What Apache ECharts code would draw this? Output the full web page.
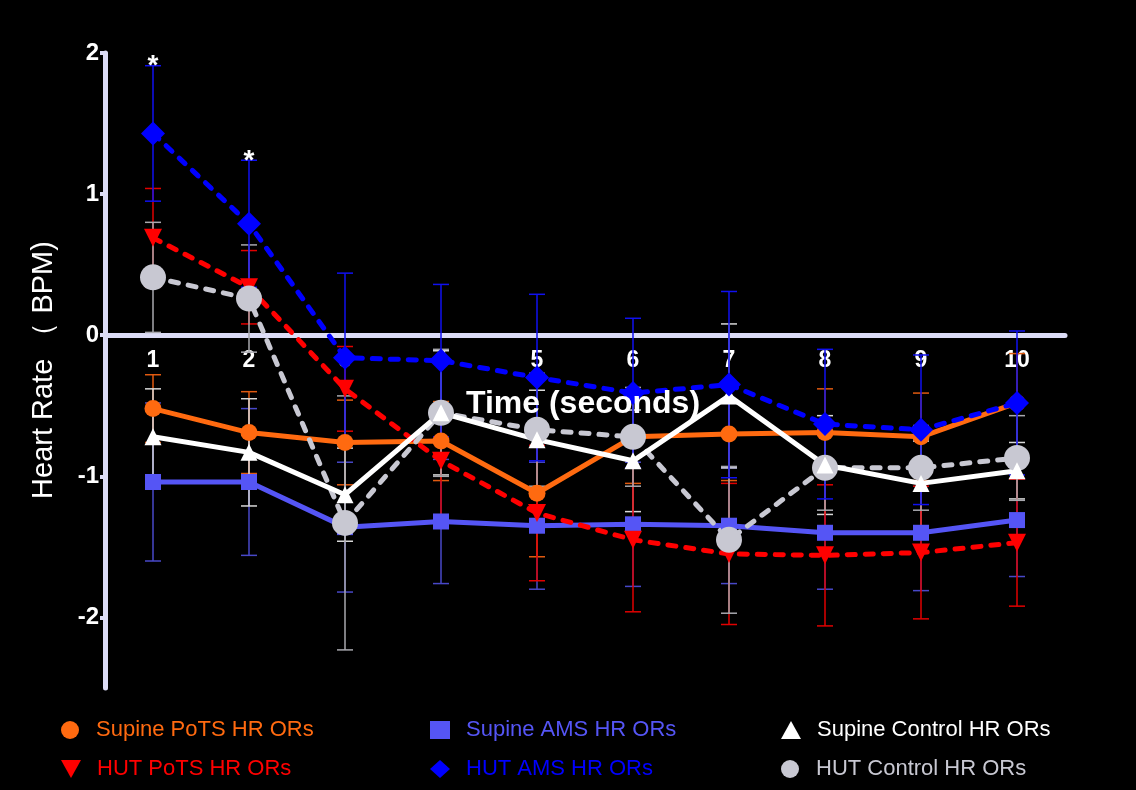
<!DOCTYPE html>
<html>
<head>
<meta charset="utf-8">
<title>Heart Rate ORs over time</title>
<script src="https://cdn.jsdelivr.net/npm/echarts@6/dist/echarts.min.js"></script>
<style>
  html, body { margin: 0; padding: 0; background: #000; }
  #chart { width: 1136px; height: 790px; }
</style>
</head>
<body>
<div id="chart"></div>
<script>
// Time points (seconds)
const timePoints = ['1', '2', '3', '4', '5', '6', '7', '8', '9', '10'];
const yTicks = [-2, -1, 0, 1, 2];

// Mean heart-rate ORs and their error bar half-widths
const supinePots      = [-0.52, -0.69, -0.76, -0.75, -1.12, -0.72, -0.70, -0.69, -0.72, -0.48];
const supinePotsErr   = [0.24, 0.29, 0.30, 0.28, 0.45, 0.33, 0.33, 0.31, 0.31, 0.35];
const supineAms       = [-1.04, -1.04, -1.36, -1.32, -1.35, -1.34, -1.35, -1.40, -1.40, -1.31];
const supineAmsErr    = [0.56, 0.52, 0.46, 0.44, 0.45, 0.44, 0.41, 0.40, 0.41, 0.40];
const supineControl   = [-0.72, -0.83, -1.13, -0.55, -0.74, -0.89, -0.43, -0.92, -1.05, -0.96];
const supineControlErr= [0.34, 0.38, 0.33, 0.44, 0.35, 0.36, 0.51, 0.35, 0.30, 0.20];
const hutPots         = [0.69, 0.34, -0.38, -0.89, -1.26, -1.45, -1.55, -1.56, -1.54, -1.47];
const hutPotsErr      = [0.35, 0.26, 0.30, 0.40, 0.48, 0.51, 0.50, 0.50, 0.47, 0.45];
const hutAms          = [1.43, 0.79, -0.16, -0.18, -0.30, -0.41, -0.35, -0.63, -0.67, -0.48];
const hutAmsErr       = [0.48, 0.45, 0.60, 0.54, 0.59, 0.53, 0.66, 0.53, 0.53, 0.51];
const hutControl      = [0.41, 0.26, -1.33, -0.55, -0.67, -0.72, -1.45, -0.94, -0.94, -0.87];
const hutControlErr   = [0.39, 0.38, 0.90, 0.45, 0.40, 0.35, 0.52, 0.30, 0.30, 0.30];
// Significance markers shown above the HUT AMS error bars
const hutAmsSig       = ['*', '*', '', '', '', '', '', '', '', ''];

const FONT = 'Liberation Sans, Arial, sans-serif';
const AXIS_COLOR = '#DCDCF6';

// Plot area and value range
const GRID = { left: 105, right: 71, top: 53, bottom: 102 };
const Y_MIN = -2.5, Y_MAX = 2;
const plotHeight = 790 - GRID.top - GRID.bottom;
// keep the category axis on the zero line (labels included)
const zeroOffset = -plotHeight * (0 - Y_MIN) / (Y_MAX - Y_MIN);

function errData(vals, errs, marks) {
  return vals.map((v, i) => [i, v, errs[i], marks ? marks[i] : '']);
}

function errRender(color) {
  return function (params, api) {
    const i = api.value(0), v = api.value(1), e = api.value(2);
    const mark = api.value(3);
    const top = api.coord([i, v + e]);
    const bot = api.coord([i, v - e]);
    const hw = 8;
    const st = { stroke: color, lineWidth: 1.5 };
    const children = [
      { type: 'line', shape: { x1: top[0], y1: top[1], x2: bot[0], y2: bot[1] }, style: st },
      { type: 'line', shape: { x1: top[0] - hw, y1: top[1], x2: top[0] + hw, y2: top[1] }, style: st },
      { type: 'line', shape: { x1: bot[0] - hw, y1: bot[1], x2: bot[0] + hw, y2: bot[1] }, style: st }
    ];
    if (mark && mark !== '-') {
      children.push({
        type: 'text',
        style: {
          text: String(mark), x: top[0], y: top[1] + 15,
          fill: '#fff', font: 'bold 28px ' + FONT,
          align: 'center', verticalAlign: 'bottom'
        }
      });
    }
    return { type: 'group', children };
  };
}

function lineSeries(name, data, color, symbol, size, dashed, extra) {
  return Object.assign({
    name, type: 'line', data, z: 3,
    symbol, symbolSize: size,
    itemStyle: { color },
    lineStyle: { color, width: 5, type: dashed ? [8, 10] : 'solid', cap: 'round', join: 'round' },
    emphasis: { disabled: true },
    animation: false
  }, extra || {});
}

function errSeries(name, vals, errs, color, marks) {
  return {
    name: name + ' error', type: 'custom', z: 2,
    data: errData(vals, errs, marks),
    encode: { x: 0, y: 1 },
    renderItem: errRender(color),
    silent: true, animation: false
  };
}

const downTri = 'path://M0,0 L20,0 L10,18 Z';

const legendItems = [
  { name: 'Supine PoTS HR ORs',    color: '#FF6A10', icon: 'circle',   left: 56,  top: 714 },
  { name: 'Supine AMS HR ORs',     color: '#5555F5', icon: 'rect',     left: 425, top: 714 },
  { name: 'Supine Control HR ORs', color: '#FFFFFF', icon: 'triangle', left: 776, top: 714 },
  { name: 'HUT PoTS HR ORs',       color: '#FF0000', icon: downTri,    left: 56,  top: 753 },
  { name: 'HUT AMS HR ORs',        color: '#0000FF', icon: 'diamond',  left: 425, top: 753 },
  { name: 'HUT Control HR ORs',    color: '#C8C8D2', icon: 'circle',   left: 776, top: 753 }
];

const chart = echarts.init(document.getElementById('chart'));
chart.setOption({
  backgroundColor: '#000',
  animation: false,
  textStyle: { fontFamily: FONT },
  grid: Object.assign({ containLabel: false }, GRID),
  legend: legendItems.map(l => ({
    data: [l.name], left: l.left, top: l.top,
    icon: l.icon, itemWidth: 20, itemHeight: 18, itemGap: 0,
    selectedMode: false,
    textStyle: { color: l.color, fontSize: 22, fontFamily: FONT, padding: [0, 0, 0, 11] }
  })),
  xAxis: {
    type: 'category', data: timePoints, boundaryGap: true,
    position: 'bottom', offset: zeroOffset,
    axisLine: { onZero: false, lineStyle: { color: AXIS_COLOR, width: 5, cap: 'round' } },
    axisTick: { alignWithLabel: true, length: 5, lineStyle: { color: AXIS_COLOR, width: 4 } },
    axisLabel: { color: '#fff', fontSize: 23, fontWeight: 'bold', margin: 14, fontFamily: FONT },
    splitLine: { show: false }
  },
  yAxis: {
    type: 'value', min: Y_MIN, max: Y_MAX, interval: 0.5,
    axisLine: { show: true, onZero: false, lineStyle: { color: AXIS_COLOR, width: 5, cap: 'round' } },
    axisTick: { show: true, length: 5, customValues: yTicks, lineStyle: { color: AXIS_COLOR, width: 4 } },
    axisLabel: { color: '#fff', fontSize: 24, fontWeight: 'bold', margin: 6, customValues: yTicks, fontFamily: FONT },
    splitLine: { show: false }
  },
  graphic: [
    {
      type: 'text', x: 44, y: 370, rotation: Math.PI / 2,
      style: { text: 'Heart Rate （ BPM)', fill: '#fff', font: '29px ' + FONT, align: 'center', verticalAlign: 'middle' }
    },
    {
      type: 'text', x: 583, y: 404, z: 10,
      style: { text: 'Time (seconds)', fill: '#fff', font: 'bold 32px ' + FONT, align: 'center', verticalAlign: 'middle' }
    }
  ],
  series: [
    errSeries('Supine AMS HR ORs', supineAms, supineAmsErr, '#4848C8'),
    errSeries('Supine PoTS HR ORs', supinePots, supinePotsErr, '#E05A10'),
    errSeries('Supine Control HR ORs', supineControl, supineControlErr, '#D8D8D8'),
    errSeries('HUT PoTS HR ORs', hutPots, hutPotsErr, '#E00000'),
    errSeries('HUT Control HR ORs', hutControl, hutControlErr, '#A8A8AE'),
    errSeries('HUT AMS HR ORs', hutAms, hutAmsErr, '#1010F0', hutAmsSig),
    lineSeries('Supine AMS HR ORs', supineAms, '#5555F5', 'rect', 16, false),
    lineSeries('Supine PoTS HR ORs', supinePots, '#FF6A10', 'circle', 17, false),
    lineSeries('HUT PoTS HR ORs', hutPots, '#FF0000', 'triangle', 18, true, { symbolRotate: 180 }),
    lineSeries('HUT Control HR ORs', hutControl, '#C8C8D2', 'circle', 26, true),
    lineSeries('Supine Control HR ORs', supineControl, '#FFFFFF', 'triangle', 17, false),
    lineSeries('HUT AMS HR ORs', hutAms, '#0000FF', 'diamond', 24, true)
  ]
});
</script>
</body>
</html>
